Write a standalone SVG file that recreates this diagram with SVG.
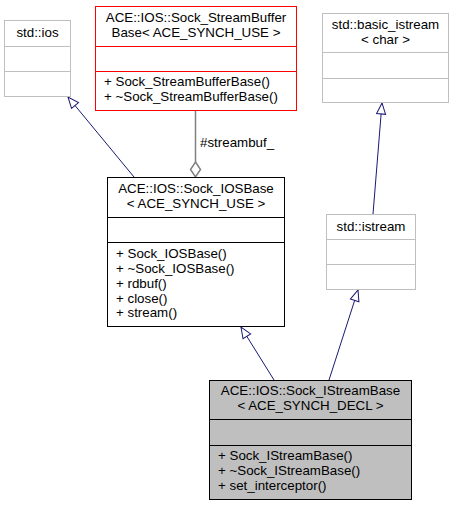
<svg xmlns="http://www.w3.org/2000/svg" width="456" height="507" viewBox="0 0 456 507">
<style>
text{font-family:"Liberation Sans",Arial,Helvetica,sans-serif;font-size:13.33px;fill:#000}
.c{text-anchor:middle}
.box{fill:#fff;stroke-width:1}
.gray{stroke:#bfbfbf}
.red{stroke:#ff0000}
.blk{stroke:#000}
.sel{fill:#bfbfbf;stroke:#000}
.inh{fill:none;stroke:#191970;stroke-width:1;marker-end:url(#tri)}
.use{fill:none;stroke:#808080;stroke-width:1.5}
</style>
<defs>
<marker id="tri" markerUnits="userSpaceOnUse" viewBox="-1 -6 13 12" refX="11" refY="0" markerWidth="13" markerHeight="12" orient="auto">
<path d="M0,-4.5 L11,0 L0,4.5 Z" fill="#fff" stroke="#191970" stroke-width="1"/>
</marker>
</defs>
<rect width="456" height="507" fill="#fff"/>
<g id="edges">
<path class="inh" d="M134,177 L68,97"/>
<path class="inh" d="M373,214 L382,103"/>
<path class="inh" d="M274,380 L241,327"/>
<path class="inh" d="M329,380 L358,290"/>
<path class="use" d="M195.5,111 L195.5,162"/>
<path d="M195.5,162 L200.5,169.5 L195.5,177 L190.5,169.5 Z" fill="#fff" stroke="#808080" stroke-width="1.5"/>
<text x="200" y="147">#streambuf_</text>
</g>
<g id="std_ios">
<rect class="box gray" x="4.5" y="20.5" width="66" height="76"/>
<line class="gray" x1="4.5" y1="46.5" x2="70.5" y2="46.5"/>
<line class="gray" x1="4.5" y1="71.5" x2="70.5" y2="71.5"/>
<text class="c" x="37.5" y="37">std::ios</text>
</g>
<g id="sock_streambufferbase">
<rect class="box red" x="95.5" y="6.5" width="201" height="104"/>
<line class="red" x1="95.5" y1="46.5" x2="296.5" y2="46.5"/>
<line class="red" x1="95.5" y1="71.5" x2="296.5" y2="71.5"/>
<text class="c" x="196" y="22">ACE::IOS::Sock_StreamBuffer</text>
<text class="c" x="196" y="37">Base&lt; ACE_SYNCH_USE &gt;</text>
<text x="104" y="86">+ Sock_StreamBufferBase()</text>
<text x="104" y="101">+ ~Sock_StreamBufferBase()</text>
</g>
<g id="std_basic_istream">
<rect class="box gray" x="322.5" y="13.5" width="126" height="89"/>
<line class="gray" x1="322.5" y1="52.5" x2="448.5" y2="52.5"/>
<line class="gray" x1="322.5" y1="78.5" x2="448.5" y2="78.5"/>
<text class="c" x="385.5" y="29">std::basic_istream</text>
<text class="c" x="385.5" y="44">&lt; char &gt;</text>
</g>
<g id="std_istream">
<rect class="box gray" x="326.5" y="214.5" width="89" height="75"/>
<line class="gray" x1="326.5" y1="239.5" x2="415.5" y2="239.5"/>
<line class="gray" x1="326.5" y1="264.5" x2="415.5" y2="264.5"/>
<text class="c" x="371" y="231">std::istream</text>
</g>
<g id="sock_iosbase">
<rect class="box blk" x="107.5" y="177.5" width="177" height="149"/>
<line class="blk" x1="107.5" y1="217.5" x2="284.5" y2="217.5"/>
<line class="blk" x1="107.5" y1="242.5" x2="284.5" y2="242.5"/>
<text class="c" x="196" y="193">ACE::IOS::Sock_IOSBase</text>
<text class="c" x="196" y="208">&lt; ACE_SYNCH_USE &gt;</text>
<text x="116" y="258">+ Sock_IOSBase()</text>
<text x="116" y="273">+ ~Sock_IOSBase()</text>
<text x="116" y="288">+ rdbuf()</text>
<text x="116" y="303">+ close()</text>
<text x="116" y="317">+ stream()</text>
</g>
<g id="sock_istreambase">
<rect class="sel" x="209.5" y="380.5" width="202" height="119"/>
<line class="blk" x1="209.5" y1="419.5" x2="411.5" y2="419.5"/>
<line class="blk" x1="209.5" y1="445.5" x2="411.5" y2="445.5"/>
<text class="c" x="310.5" y="395">ACE::IOS::Sock_IStreamBase</text>
<text class="c" x="310.5" y="410">&lt; ACE_SYNCH_DECL &gt;</text>
<text x="218" y="460">+ Sock_IStreamBase()</text>
<text x="218" y="475">+ ~Sock_IStreamBase()</text>
<text x="218" y="490">+ set_interceptor()</text>
</g>
</svg>
